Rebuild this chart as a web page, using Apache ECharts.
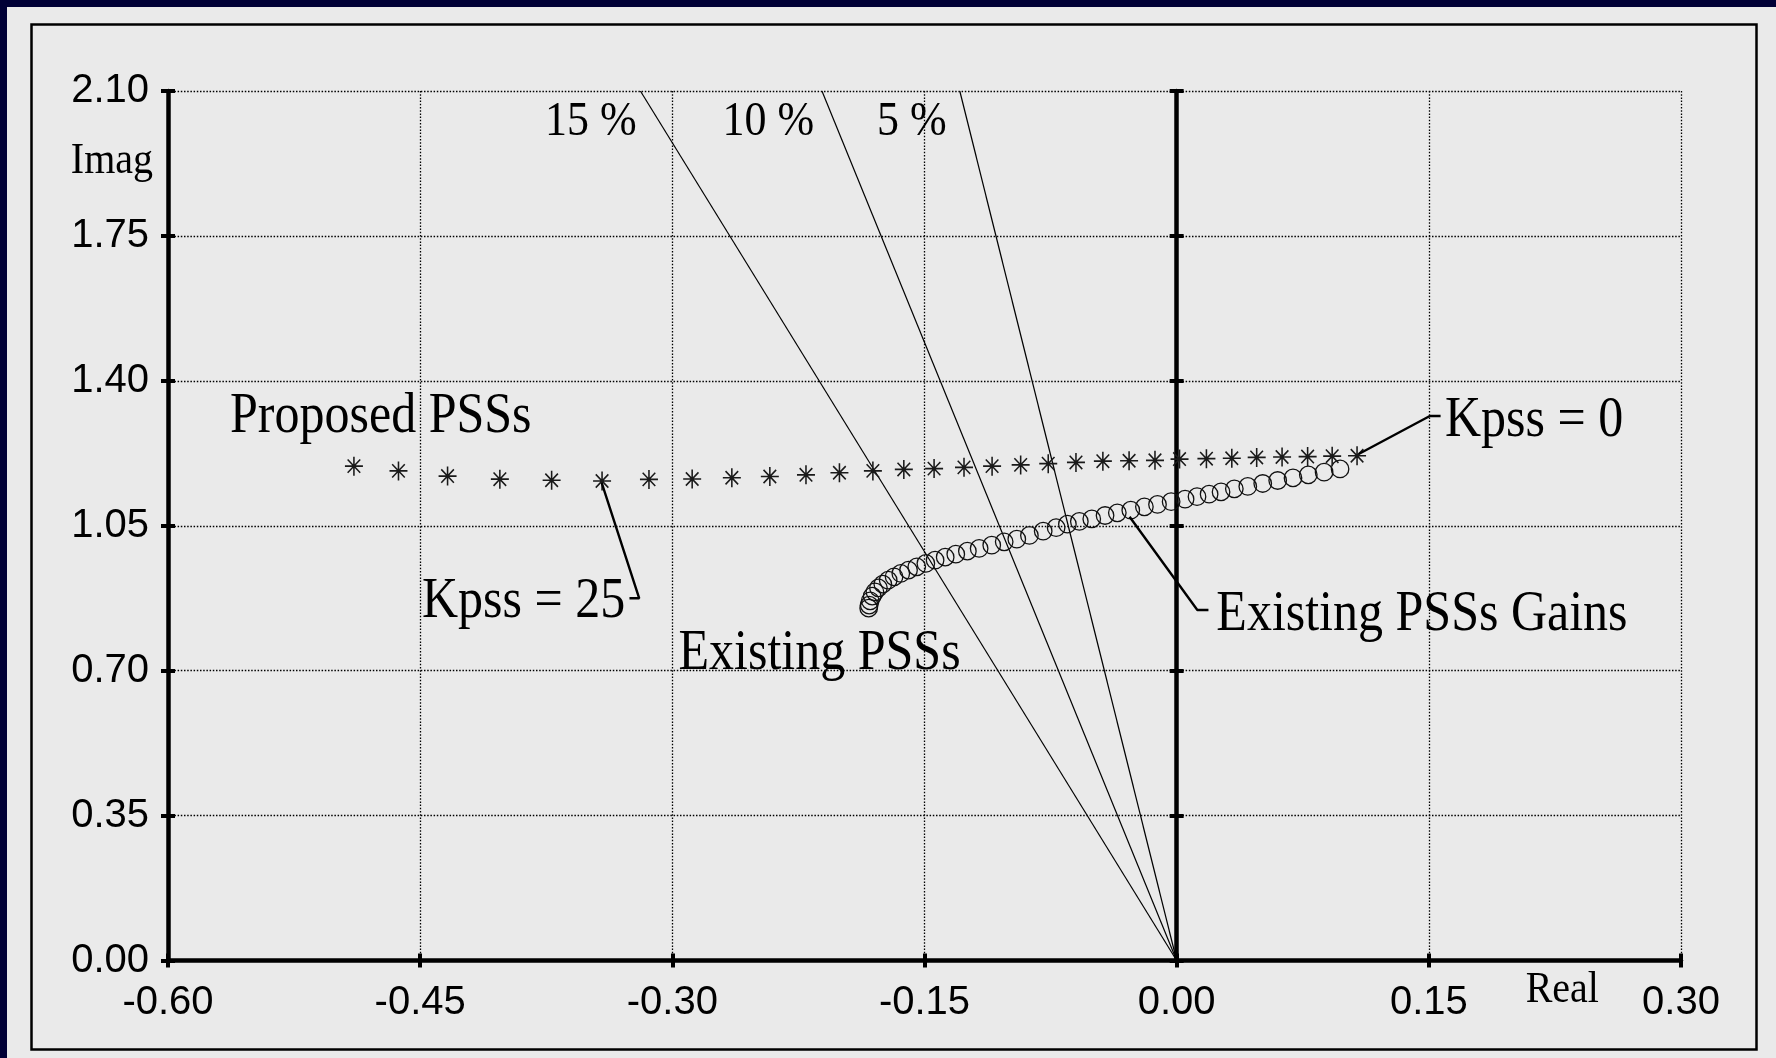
<!DOCTYPE html>
<html>
<head>
<meta charset="utf-8">
<script src="https://cdn.jsdelivr.net/npm/echarts@6/dist/echarts.min.js"></script>
<style>
html,body{margin:0;padding:0;background:#eaeaea;}
#chart{width:1776px;height:1058px;}
</style>
</head>
<body>
<div id="chart"></div>
<script>
// ---- data ----
const xTickLabels = ['-0.60', '-0.45', '-0.30', '-0.15', '0.00', '0.15', '0.30'];
const yTickLabels = ['0.00', '0.35', '0.70', '1.05', '1.40', '1.75', '2.10'];

// Proposed PSSs (asterisks), Kpss from 25 (left) to 0 (right)
const proposedReal = [-0.4894, -0.4629, -0.4337, -0.4026, -0.3718, -0.3418, -0.3139, -0.2882, -0.2646, -0.2420,
  -0.2205, -0.2006, -0.1807, -0.1623, -0.1443, -0.1265, -0.1098, -0.0928, -0.0764, -0.0599,
  -0.0439, -0.0283, -0.0129, 0.0017, 0.0177, 0.0328, 0.0476, 0.0627, 0.0779, 0.0925, 0.1073];
const proposedImag = [1.194, 1.1825, 1.170, 1.1625, 1.160, 1.158, 1.162, 1.163, 1.166, 1.169,
  1.173, 1.178, 1.1825, 1.186, 1.188, 1.191, 1.194, 1.197, 1.200, 1.203,
  1.206, 1.207, 1.208, 1.211, 1.212, 1.213, 1.215, 1.216, 1.217, 1.218, 1.219];

// Existing PSSs (circles)
const existingReal = [-0.1832, -0.1829, -0.1823, -0.1811, -0.1795, -0.1774, -0.1748, -0.1716, -0.1681, -0.1641,
  -0.1595, -0.1546, -0.1492, -0.1437, -0.1377, -0.1314, -0.1245, -0.1175, -0.1100, -0.1026,
  -0.0951, -0.0876, -0.0794, -0.0717, -0.0650, -0.0579, -0.0505, -0.0426, -0.0353, -0.0273,
  -0.0192, -0.0114, -0.0033, 0.0050, 0.0121, 0.0193, 0.0264, 0.0343, 0.0423, 0.0512,
  0.0601, 0.0692, 0.0783, 0.0877, 0.0972];
const existingImag = [0.8510, 0.8583, 0.8687, 0.8800, 0.8904, 0.9000, 0.9090, 0.9186, 0.9266, 0.9348,
  0.9428, 0.9507, 0.9590, 0.9669, 0.9742, 0.9814, 0.9887, 0.9952, 1.0031, 1.0111,
  1.0176, 1.0266, 1.0369, 1.0454, 1.0538, 1.0604, 1.0666, 1.0748, 1.0811, 1.0876,
  1.0956, 1.1014, 1.1082, 1.1142, 1.1202, 1.1263, 1.1318, 1.1391, 1.1449, 1.1521,
  1.1593, 1.1656, 1.1729, 1.1794, 1.1873];

// Damping-ratio lines from origin to top of plot
const dampingLabels = ['15 %', '10 %', '5 %'];
const dampingTopReal = [-0.319, -0.211, -0.129];
const dampingTopImag = 2.10;

// Leader lines for annotations (data coordinates)
const leaderKpss0 = [[0.1083, 1.2233], [0.1506, 1.3151], [0.1570, 1.3151]];
const leaderKpss25 = [[-0.3420, 1.1533], [-0.3197, 0.8748], [-0.3255, 0.8748]];
const leaderGains = [[-0.0280, 1.0718], [0.0123, 0.8465], [0.0189, 0.8465]];

// Annotation texts: [text, real, imag, fontSize]
const annotations = [
  ['Proposed PSSs', -0.5631, 1.3110, 50],
  ['Kpss = 0', 0.1596, 1.3030, 50],
  ['Kpss = 25', -0.4489, 0.8660, 50],
  ['Existing PSSs', -0.2963, 0.7390, 50],
  ['Existing PSSs Gains', 0.0236, 0.8330, 50],
  [dampingLabels[0], -0.3758, 2.0260, 44],
  [dampingLabels[1], -0.2701, 2.0260, 44],
  [dampingLabels[2], -0.1783, 2.0260, 44],
  ['Imag', -0.6578, 1.9300, 40],
  ['Real', 0.2076, -0.0720, 40]
];

// ---- chart ----
const SANS = 'Liberation Sans, Arial, sans-serif';
const SERIF = 'Liberation Serif, Times New Roman, serif';
const chart = echarts.init(document.getElementById('chart'), null, {renderer: 'canvas'});

const dotted = {color: '#000', width: 1.3, type: [1.5, 1.7]};
const thick = {color: '#000', width: 4.5};
const tickStyle = {color: '#000', width: 4};

const xBase = {type: 'value', min: -0.6, max: 0.3, interval: 0.15, position: 'bottom', gridIndex: 0};
const yBase = {type: 'value', min: 0, max: 2.1, interval: 0.35, position: 'left', gridIndex: 0};

const asteriskPath = 'path://M8 0L8 16M0 8L16 8M2.4 2.4L13.6 13.6M2.4 13.6L13.6 2.4';

const seriesList = [];
dampingTopReal.forEach(function (xr, i) {
  seriesList.push({
    type: 'line', name: dampingLabels[i], data: [[0, 0], [xr, dampingTopImag]],
    symbol: 'none', lineStyle: {color: '#000', width: 1.2}, silent: true, z: 3
  });
});
seriesList.push({
  type: 'scatter', name: 'Existing PSSs',
  data: existingReal.map(function (v, i) { return [v, existingImag[i]]; }),
  symbol: 'circle', symbolSize: 17.5,
  itemStyle: {color: 'rgba(0,0,0,0)', borderColor: '#111', borderWidth: 1.3, opacity: 1},
  silent: true, z: 4
});
seriesList.push({
  type: 'scatter', name: 'Proposed PSSs',
  data: proposedReal.map(function (v, i) { return [v, proposedImag[i]]; }),
  symbol: asteriskPath, symbolSize: [18, 19],
  itemStyle: {color: 'rgba(0,0,0,0)', borderColor: '#1a1a1a', borderWidth: 1.6, opacity: 1},
  silent: true, z: 4
});
[leaderKpss0, leaderKpss25, leaderGains].forEach(function (pts) {
  seriesList.push({
    type: 'line', data: pts, symbol: 'none',
    lineStyle: {color: '#000', width: 2.4}, silent: true, z: 5
  });
});

const option = {
  animation: false,
  backgroundColor: '#eaeaea',
  grid: {left: 168, right: 95, top: 91, bottom: 97.5, containLabel: false},
  xAxis: [
    Object.assign({}, xBase, {
      axisLine: {show: true, onZero: false, lineStyle: thick},
      axisTick: {show: true, inside: false, length: 7, lineStyle: tickStyle},
      axisLabel: {show: true, margin: 22, color: '#000', fontFamily: SANS, fontSize: 40,
        formatter: function (v, i) { return xTickLabels[i]; }},
      splitLine: {show: true, lineStyle: dotted}
    }),
    Object.assign({}, xBase, {
      axisLine: {show: false, onZero: false},
      axisTick: {show: true, inside: true, length: 7, lineStyle: tickStyle},
      axisLabel: {show: false}, splitLine: {show: false}
    })
  ],
  yAxis: [
    Object.assign({}, yBase, {
      axisLine: {show: true, onZero: false, lineStyle: thick},
      axisTick: {show: true, inside: false, length: 7, lineStyle: tickStyle},
      axisLabel: {show: true, margin: 19, color: '#000', fontFamily: SANS, fontSize: 40,
        formatter: function (v, i) { return yTickLabels[i]; }},
      splitLine: {show: true, lineStyle: dotted}
    }),
    Object.assign({}, yBase, {
      axisLine: {show: false, onZero: false},
      axisTick: {show: true, inside: true, length: 7, lineStyle: tickStyle},
      axisLabel: {show: false}, splitLine: {show: false}
    }),
    Object.assign({}, yBase, {
      axisLine: {show: true, onZero: true, onZeroAxisIndex: 0, lineStyle: thick},
      axisTick: {show: true, inside: false, length: 7, lineStyle: tickStyle},
      axisLabel: {show: false}, splitLine: {show: false}
    }),
    Object.assign({}, yBase, {
      axisLine: {show: false, onZero: true, onZeroAxisIndex: 0},
      axisTick: {show: true, inside: true, length: 7, lineStyle: tickStyle},
      axisLabel: {show: false}, splitLine: {show: false}
    })
  ],
  series: seriesList
};
chart.setOption(option);

// decorations + annotation texts placed through the chart's coordinate system
const graphics = [
  {type: 'rect', shape: {x: 0, y: 0, width: 1776, height: 7}, style: {fill: '#000036'}, z: -10, silent: true},
  {type: 'rect', shape: {x: 0, y: 0, width: 7, height: 1058}, style: {fill: '#000036'}, z: -10, silent: true},
  {type: 'rect', shape: {x: 31.5, y: 24.5, width: 1725, height: 1025}, style: {fill: 'none', stroke: '#000', lineWidth: 2.5}, z: -9, silent: true}
];
annotations.forEach(function (a) {
  const p = chart.convertToPixel({xAxisIndex: 0, yAxisIndex: 0}, [a[1], a[2]]);
  graphics.push({
    type: 'text', x: p[0], y: p[1], originX: 0, originY: 0, scaleY: 1.12, silent: true, z: 10,
    style: {
      text: a[0], fill: '#000',
      font: a[3] + 'px ' + SERIF,
      align: 'left', verticalAlign: 'middle'
    }
  });
});
chart.setOption({graphic: graphics});
</script>
</body>
</html>
